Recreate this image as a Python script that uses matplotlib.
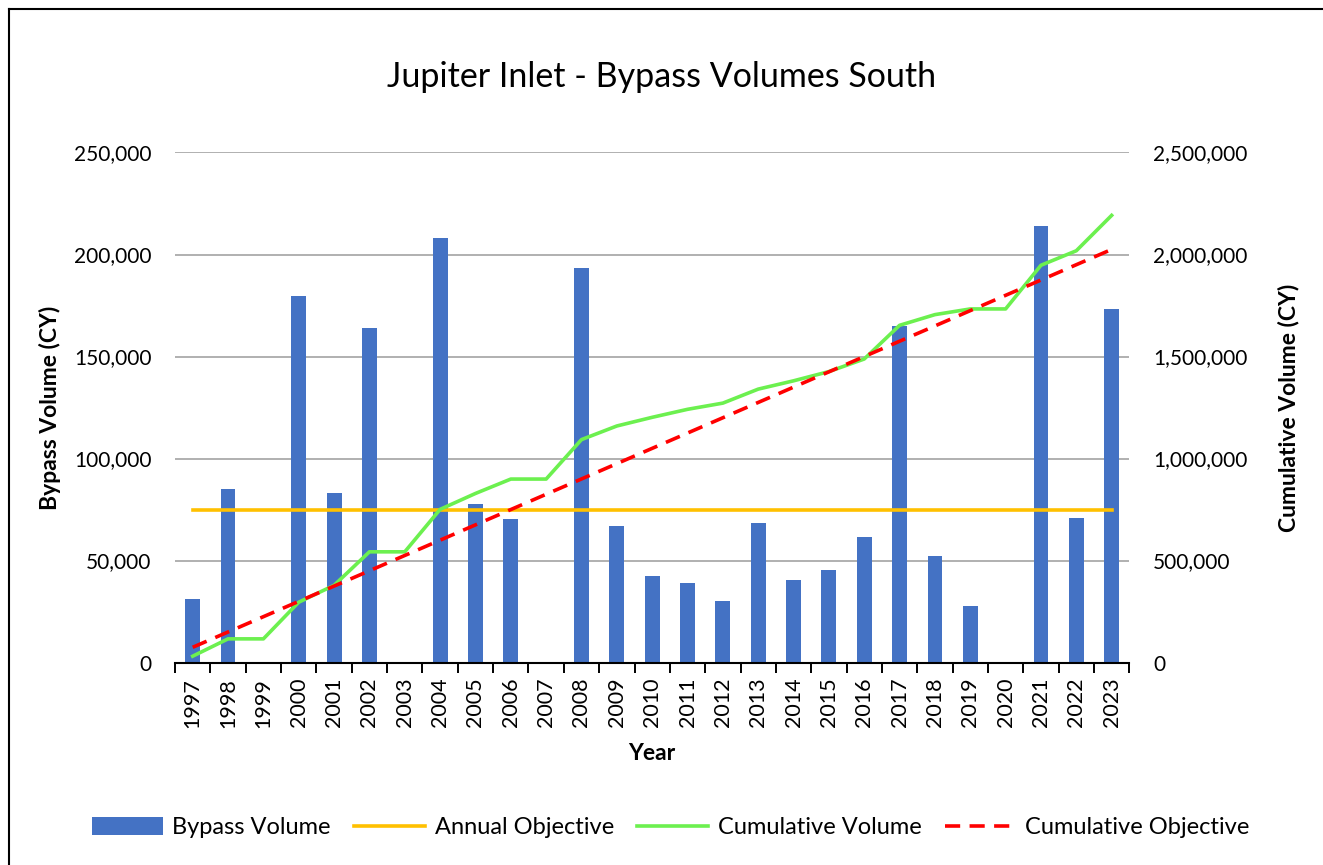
import numpy as np
import matplotlib.pyplot as plt
from matplotlib.ticker import FuncFormatter, FixedLocator
from matplotlib.lines import Line2D

plt.rcParams['font.family'] = ['Lato', 'DejaVu Sans']

years = list(range(1997, 2024))
bypass = [31400, 84900, 0, 179600, 82900, 164100, 0, 208100, 77900, 70600,
          0, 193400, 66700, 42500, 39200, 30400, 68600, 40700, 45200, 61700,
          165100, 52400, 27900, 0, 214000, 71100, 173400]
annual_obj = [75000] * len(years)
cumulative = np.cumsum(bypass)
cum_obj = np.cumsum(annual_obj)

fig = plt.figure(figsize=(13.23, 8.65), dpi=100)
# chart border (only left and top edges are visible in the crop)
fig.lines.append(Line2D([0.0065, 0.0065], [0, 0.9895], transform=fig.transFigure,
                        color='black', linewidth=1.5))
fig.lines.append(Line2D([0.0065, 1.0], [0.9895, 0.9895], transform=fig.transFigure,
                        color='black', linewidth=1.5))

ax = fig.add_axes([0.1323, 0.234, 0.7213, 0.5897])
ax2 = ax.twinx()
ax.set_zorder(ax2.get_zorder() + 1)
ax.patch.set_visible(False)

x = np.arange(len(years))
ax.bar(x, bypass, width=0.42, color='#4472C4', label='Bypass Volume', zorder=2)
ax.plot(x, annual_obj, color='#FFC000', linewidth=2.6, label='Annual Objective', zorder=3)
ax.plot(x, cumulative / 10, color='#6CF04F', linewidth=2.6, label='Cumulative Volume', zorder=4)
ax.plot(x, cum_obj / 10, color='#FF0000', linewidth=2.6, linestyle=(0, (4.2, 2.6)),
        label='Cumulative Objective', zorder=5)

ax.set_ylim(0, 250000)
ax.set_xlim(-0.5, len(years) - 0.5)
ax2.set_ylim(0, 2500000)
ax.set_yticks(np.arange(0, 250001, 50000))
ax2.set_yticks(np.arange(0, 2500001, 500000))
fmt = FuncFormatter(lambda v, p: f'{int(v):,}')
ax.yaxis.set_major_formatter(fmt)
ax2.yaxis.set_major_formatter(fmt)

ax.grid(axis='y', color='#b0b0b0', linewidth=1.4, zorder=0)
ax.set_axisbelow(True)

ax.set_xticks(x)
ax.set_xticklabels([str(y) for y in years], rotation=90, fontsize=15.5)
ax.xaxis.set_minor_locator(FixedLocator(np.arange(-0.5, len(years), 1)))
ax.tick_params(axis='x', which='major', length=0, pad=11)
ax.tick_params(axis='x', which='minor', length=7, width=1.4, color='black')
ax.tick_params(axis='y', length=0, labelsize=15, pad=17)
ax2.tick_params(axis='y', length=0, labelsize=15, pad=17)

for a in (ax, ax2):
    for s in ('top', 'left', 'right'):
        a.spines[s].set_visible(False)
ax2.spines['bottom'].set_visible(False)
ax.spines['bottom'].set_linewidth(1.5)

ax.set_xlabel('Year', fontsize=16.5, fontweight='bold', labelpad=11)
ax.set_ylabel('Bypass Volume (CY)', fontsize=16.5, fontweight='bold', labelpad=9)
ax2.set_ylabel('Cumulative Volume (CY)', fontsize=16.5, fontweight='bold', labelpad=22)

fig.text(0.5, 0.911, 'Jupiter Inlet - Bypass Volumes South', ha='center', va='center', fontsize=24.5)

h, l = ax.get_legend_handles_labels()
order = [3, 0, 1, 2]
fig.legend([h[i] for i in order], [l[i] for i in order], loc='center',
           bbox_to_anchor=(0.507, 0.043), ncol=4, frameon=False, fontsize=17,
           handlelength=3.0, handleheight=0.75, columnspacing=1.0, handletextpad=0.4)

fig.savefig('out.png', dpi=100)
